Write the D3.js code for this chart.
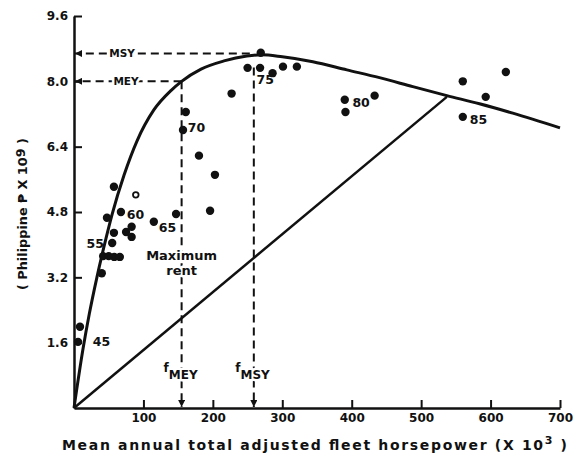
<!DOCTYPE html>
<html>
<head>
<meta charset="utf-8">
<script src="https://cdn.jsdelivr.net/npm/d3@7"></script>
<style>
  body { margin: 0; background: #fff; }
  text { font-family: "DejaVu Sans", "Liberation Sans", Arial, sans-serif; font-weight: bold; fill: #111; }
  .halo { paint-order: stroke; stroke: #fff; stroke-width: 5px; stroke-linejoin: round; }
</style>
</head>
<body>
<div id="main"></div>
<script>
// yield curve (effort x 10^3 hp, pesos x 10^9)
const yieldEffort = [0, 13, 22, 33, 46, 55, 72, 91, 115, 140, 155, 183, 216, 249, 270, 300, 344, 393, 440, 488, 537, 584, 632, 700];
const yieldValue = [0, 1.45, 2.3, 3.2, 4.15, 4.75, 5.7, 6.55, 7.3, 7.78, 8.0, 8.3, 8.5, 8.62, 8.65, 8.6, 8.48, 8.28, 8.09, 7.87, 7.65, 7.45, 7.22, 6.86];
// total cost line
const costEffort = [0, 537];
const costValue = [0, 7.62];
// observed annual points
const obsEffort = [8.6, 5.8, 40, 42, 50, 58, 66, 55, 57.5, 47.5, 57.5, 67.6, 75, 83, 83, 115, 147,
  157, 161, 180, 203, 196, 227, 250, 268, 269, 286, 301, 321, 390, 391, 433, 560, 593, 622, 560];
const obsYield = [1.99, 1.62, 3.3, 3.72, 3.72, 3.7, 3.7, 4.04, 4.29, 4.66, 5.42, 4.8, 4.31, 4.44, 4.19, 4.56, 4.75,
  6.81, 7.25, 6.18, 5.71, 4.83, 7.7, 8.33, 8.33, 8.7, 8.2, 8.36, 8.36, 7.55, 7.25, 7.65, 8.0, 7.62, 8.23, 7.13];
// one hollow point
const openEffort = [89];
const openYield = [5.22];
// year labels
const yearLabels = ['45', '55', '60', '65', '70', '75', '80', '85'];
const yearEffort = [27, 43, 76, 122, 164, 263, 401, 570];
const yearYield = [1.62, 4.04, 4.73, 4.41, 6.86, 8.04, 7.48, 7.06];
// ticks
const xTicks = [100, 200, 300, 400, 500, 600, 700];
const yTicks = [1.6, 3.2, 4.8, 6.4, 8.0, 9.6];
// reference levels
const fMEY = 155, MEY = 8.0, fMSY = 259, MSY = 8.68;

const width = 577, height = 462;
const svg = d3.select('#main').append('svg')
  .attr('width', width).attr('height', height);

const x = d3.scaleLinear().domain([0, 700]).range([74, 560]);
const y = d3.scaleLinear().domain([0, 9.6]).range([408, 16]);

// arrowhead marker
svg.append('defs').append('marker')
  .attr('id', 'arrow')
  .attr('viewBox', '0 0 8 8')
  .attr('refX', 8).attr('refY', 4)
  .attr('markerWidth', 7).attr('markerHeight', 7)
  .attr('markerUnits', 'userSpaceOnUse')
  .attr('orient', 'auto')
  .append('path').attr('d', 'M0,0 L8,4 L0,8 z').attr('fill', '#111');

// dashed reference lines
const dash = svg.append('g')
  .attr('stroke', '#111').attr('stroke-width', 2).attr('stroke-dasharray', '8,5').attr('fill', 'none');
dash.append('line')
  .attr('x1', x(fMSY) - 4).attr('y1', y(MSY)).attr('x2', x(0) + 1).attr('y2', y(MSY))
  .attr('marker-end', 'url(#arrow)');
dash.append('line')
  .attr('x1', x(fMEY)).attr('y1', y(MEY)).attr('x2', x(0) + 1).attr('y2', y(MEY))
  .attr('marker-end', 'url(#arrow)');
dash.append('line')
  .attr('x1', x(fMEY)).attr('y1', y(MEY)).attr('x2', x(fMEY)).attr('y2', y(0) - 1)
  .attr('marker-end', 'url(#arrow)');
dash.append('line')
  .attr('x1', x(fMSY)).attr('y1', y(MSY) + 14).attr('x2', x(fMSY)).attr('y2', y(0) - 1)
  .attr('marker-end', 'url(#arrow)');

// MSY / MEY labels sitting on the dashed lines
svg.append('text').attr('class', 'halo')
  .attr('x', x(0) + 48).attr('y', y(MSY)).attr('dy', '0.36em')
  .attr('text-anchor', 'middle').attr('font-size', 10.5).text('MSY');
svg.append('text').attr('class', 'halo')
  .attr('x', x(0) + 52).attr('y', y(MEY)).attr('dy', '0.36em')
  .attr('text-anchor', 'middle').attr('font-size', 10.5).text('MEY');

// axes
const xAxis = svg.append('g')
  .attr('transform', `translate(0,${y(0)})`)
  .call(d3.axisBottom(x).tickValues(xTicks).tickSize(-8).tickSizeOuter(0).tickPadding(5));
const yAxis = svg.append('g')
  .attr('transform', `translate(${x(0)},0)`)
  .call(d3.axisLeft(y).tickValues(yTicks).tickSize(-8).tickSizeOuter(0).tickPadding(6)
    .tickFormat(d3.format('.1f')));
[xAxis, yAxis].forEach(a => {
  a.select('.domain').attr('stroke', '#111').attr('stroke-width', 2.5);
  a.selectAll('.tick line').attr('stroke', '#111').attr('stroke-width', 2);
  a.selectAll('.tick text')
    .attr('font-family', '"DejaVu Sans", "Liberation Sans", Arial, sans-serif')
    .attr('font-weight', 'bold').attr('font-size', 12).attr('fill', '#111');
});

// yield curve and cost line
const line = d3.line().x(d => x(d[0])).y(d => y(d[1]));
svg.append('path')
  .datum(yieldEffort.map((f, i) => [f, yieldValue[i]]))
  .attr('d', line.curve(d3.curveMonotoneX))
  .attr('fill', 'none').attr('stroke', '#111').attr('stroke-width', 3);
svg.append('path')
  .datum(costEffort.map((f, i) => [f, costValue[i]]))
  .attr('d', d3.line().x(d => x(d[0])).y(d => y(d[1])))
  .attr('fill', 'none').attr('stroke', '#111').attr('stroke-width', 2.5);

// observed points
svg.append('g').selectAll('circle')
  .data(obsEffort.map((f, i) => [f, obsYield[i]]))
  .join('circle')
  .attr('cx', d => x(d[0])).attr('cy', d => y(d[1])).attr('r', 4.2)
  .attr('fill', '#111');
svg.append('g').selectAll('circle')
  .data(openEffort.map((f, i) => [f, openYield[i]]))
  .join('circle')
  .attr('cx', d => x(d[0])).attr('cy', d => y(d[1])).attr('r', 2.8)
  .attr('fill', '#fff').attr('stroke', '#111').attr('stroke-width', 1.8);

// year labels
svg.append('g').selectAll('text')
  .data(yearLabels)
  .join('text')
  .attr('x', (d, i) => x(yearEffort[i])).attr('y', (d, i) => y(yearYield[i]))
  .attr('dy', '0.36em')
  .attr('text-anchor', d => d === '55' ? 'end' : 'start')
  .attr('font-size', 12.5)
  .text(d => d);

// maximum rent note
svg.append('text').attr('class', 'halo')
  .attr('x', x(fMEY)).attr('y', y(3.75)).attr('dy', '0.36em')
  .attr('text-anchor', 'middle').attr('font-size', 13)
  .text('Maximum');
svg.append('text').attr('class', 'halo')
  .attr('x', x(fMEY)).attr('y', y(3.38)).attr('dy', '0.36em')
  .attr('text-anchor', 'middle').attr('font-size', 13)
  .text('rent');

// f_MEY and f_MSY labels
[['MEY', fMEY], ['MSY', fMSY]].forEach(([s, f]) => {
  const t = svg.append('text').attr('class', 'halo')
    .attr('x', x(f) + 16).attr('y', 372)
    .attr('text-anchor', 'end').attr('font-size', 12);
  t.append('tspan').text('f');
  t.append('tspan').attr('dy', 7).text(s);
});

// axis titles
const xt = svg.append('text')
  .attr('x', 62).attr('y', 450)
  .attr('font-size', 14)
  .attr('textLength', 505).attr('lengthAdjust', 'spacing');
xt.append('tspan').text('Mean annual total adjusted fleet horsepower (X 10');
xt.append('tspan').attr('dy', -6).attr('font-size', 11).text('3');
xt.append('tspan').attr('dy', 6).text(' )');

const yt = svg.append('text')
  .attr('transform', 'translate(27,290) rotate(-90)')
  .attr('font-size', 12.5)
  .attr('textLength', 152).attr('lengthAdjust', 'spacingAndGlyphs');
yt.append('tspan').text('( Philippine \u20B1 X 10');
yt.append('tspan').attr('dy', -2).text('9');
yt.append('tspan').attr('dy', 2).text(' )');
</script>
</body>
</html>
